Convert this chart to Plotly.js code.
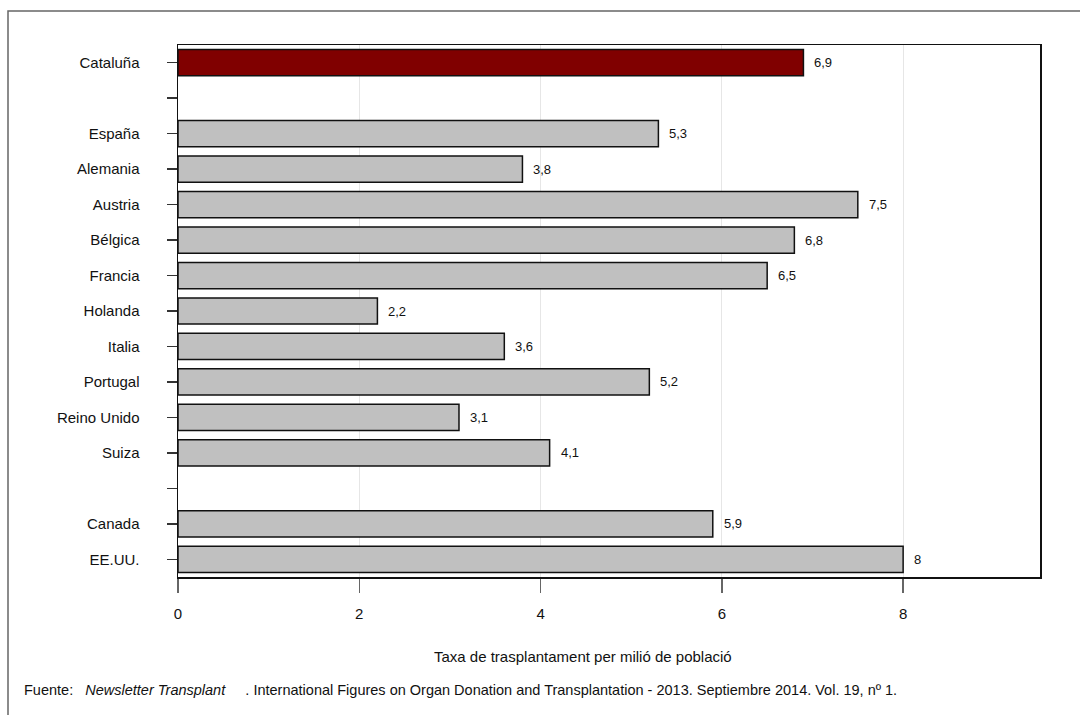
<!DOCTYPE html>
<html>
<head>
<meta charset="utf-8">
<script src="https://cdn.plot.ly/plotly-3.0.1.min.js"></script>
<style>
  body { margin: 0; background: #fff; }
  #chart { width: 1080px; height: 715px; }
</style>
</head>
<body>
<div id="chart"></div>
<script>
// blank rows are the two gaps in the list
var paises = ["Cataluña", " ", "España", "Alemania", "Austria", "Bélgica", "Francia",
              "Holanda", "Italia", "Portugal", "Reino Unido", "Suiza", "  ", "Canada", "EE.UU."];
var tasas = [6.9, null, 5.3, 3.8, 7.5, 6.8, 6.5, 2.2, 3.6, 5.2, 3.1, 4.1, null, 5.9, 8];
var destacado = "Cataluña";
var xTicks = [0, 2, 4, 6, 8];

var colores = paises.map(function (p) { return p === destacado ? "#800000" : "#c0c0c0"; });

var data = [{
  type: "bar",
  orientation: "h",
  y: paises,
  x: tasas,
  width: 0.74,
  marker: { color: colores, line: { color: "#111", width: 1.5 } },
  hoverinfo: "x+y"
}];

// value labels next to each bar
var notas = [];
paises.forEach(function (p, i) {
  if (tasas[i] === null) return;
  notas.push({
    x: tasas[i], y: p, xref: "x", yref: "y",
    text: String(tasas[i]).replace(".", ","),
    showarrow: false, xanchor: "left", xshift: 9,
    font: { size: 13, color: "#111" }
  });
});

notas.push({
  xref: "paper", yref: "paper", x: (583 - 178) / 862, y: (577 - 656) / 532,
  xanchor: "center", yanchor: "middle", showarrow: false,
  text: "Taxa de trasplantament per milió de població",
  font: { size: 15, color: "#111" }
});
notas.push({
  xref: "paper", yref: "paper", x: (22 - 178) / 862, y: (577 - 690) / 532,
  xanchor: "left", yanchor: "middle", showarrow: false,
  text: "Fuente:&nbsp;&nbsp;&nbsp;<i>Newsletter Transplant</i>&nbsp;&nbsp;&nbsp;&nbsp;&nbsp;. International Figures on Organ Donation and Transplantation - 2013. Septiembre 2014. Vol. 19, nº 1.",
  font: { size: 14.5, color: "#111" }
});

var layout = {
  width: 1080,
  height: 715,
  margin: { l: 178, r: 40, t: 45, b: 138 },
  paper_bgcolor: "white",
  plot_bgcolor: "white",
  separators: ",.",
  showlegend: false,
  font: { family: "Liberation Sans, Arial, sans-serif", size: 15, color: "#111" },
  bargap: 0.26,
  xaxis: {
    range: [0, 9.51],
    tickvals: xTicks,
    ticks: "outside", ticklen: 14, tickcolor: "#666", tickwidth: 1.5,
    ticklabelstandoff: 8,
    showgrid: true, gridcolor: "#e6e6e6", gridwidth: 1,
    zeroline: false,
    showline: true, linecolor: "#111", linewidth: 1.5, mirror: true,
    tickfont: { size: 15 }
  },
  yaxis: {
    type: "category",
    categoryorder: "array",
    categoryarray: paises,
    range: [14.5, -0.5],
    ticks: "outside", ticklen: 10, tickcolor: "#333", tickwidth: 1.5,
    ticklabelstandoff: 24,
    showgrid: false, zeroline: false,
    showline: true, linecolor: "#111", linewidth: 1.5, mirror: true,
    tickfont: { size: 15 }
  },
  annotations: notas,
  shapes: [{
    type: "rect", xref: "paper", yref: "paper", layer: "below",
    x0: (8 - 178) / 862, x1: (1100 - 178) / 862,
    y0: (577 - 740) / 532, y1: (577 - 11) / 532,
    line: { color: "#666", width: 1.5 }, fillcolor: "rgba(0,0,0,0)"
  }]
};

Plotly.newPlot("chart", data, layout, { staticPlot: true });
</script>
</body>
</html>
